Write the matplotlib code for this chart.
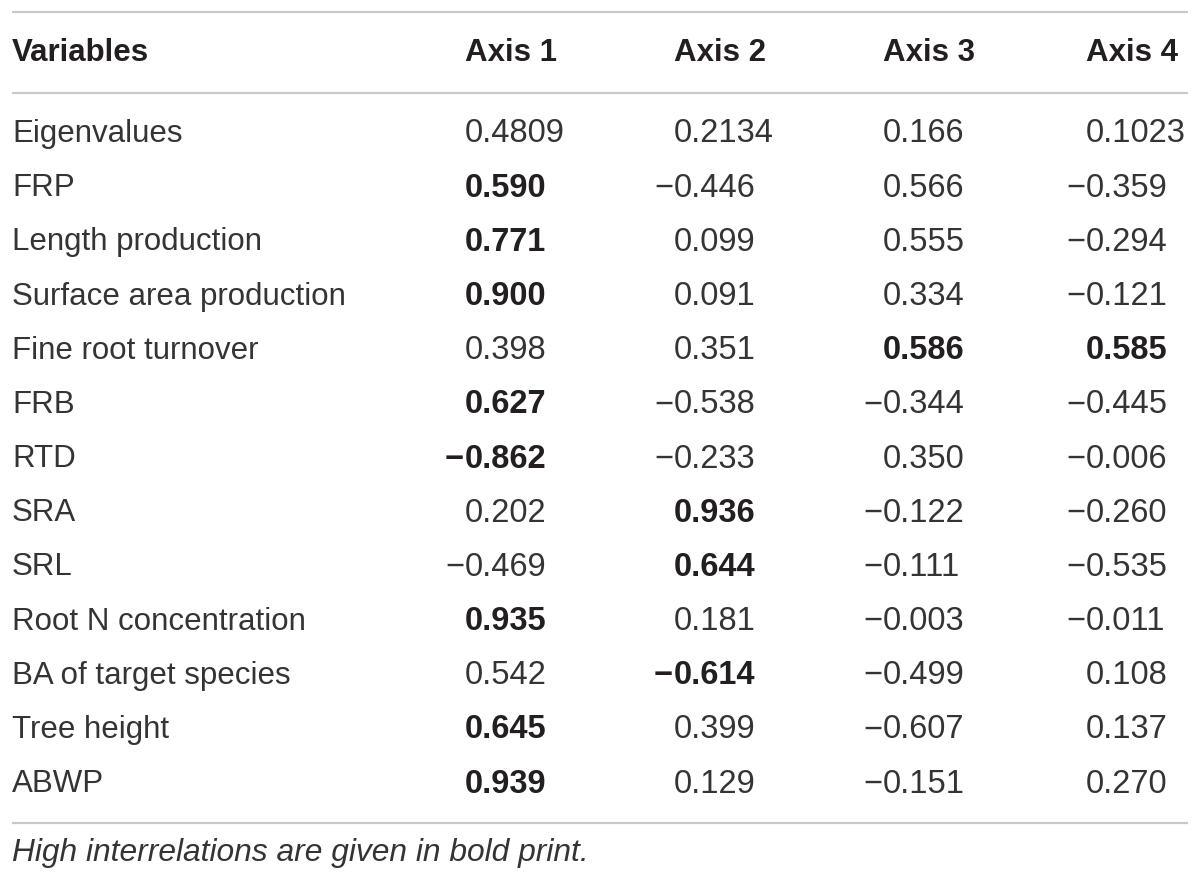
import matplotlib
matplotlib.use("Agg")
import matplotlib.pyplot as plt

# table contents
variables = ["Eigenvalues", "FRP", "Length production", "Surface area production",
             "Fine root turnover", "FRB", "RTD", "SRA", "SRL",
             "Root N concentration", "BA of target species", "Tree height", "ABWP"]
headers = ["Variables", "Axis 1", "Axis 2", "Axis 3", "Axis 4"]
axis1 = ["0.4809", "0.590", "0.771", "0.900", "0.398", "0.627", "-0.862",
         "0.202", "-0.469", "0.935", "0.542", "0.645", "0.939"]
axis2 = ["0.2134", "-0.446", "0.099", "0.091", "0.351", "-0.538", "-0.233",
         "0.936", "0.644", "0.181", "-0.614", "0.399", "0.129"]
axis3 = ["0.166", "0.566", "0.555", "0.334", "0.586", "-0.344", "0.350",
         "-0.122", "-0.111", "-0.003", "-0.499", "-0.607", "-0.151"]
axis4 = ["0.1023", "-0.359", "-0.294", "-0.121", "0.585", "-0.445", "-0.006",
         "-0.260", "-0.535", "-0.011", "0.108", "0.137", "0.270"]
# which cells are printed bold
bold1 = [0, 1, 1, 1, 0, 1, 1, 0, 0, 1, 0, 1, 1]
bold2 = [0, 0, 0, 0, 0, 0, 0, 1, 1, 0, 1, 0, 0]
bold3 = [0, 0, 0, 0, 1, 0, 0, 0, 0, 0, 0, 0, 0]
bold4 = [0, 0, 0, 0, 1, 0, 0, 0, 0, 0, 0, 0, 0]
footnote = "High interrelations are given in bold print."

FONT = ["Liberation Sans", "DejaVu Sans"]
TXT = "#231f20"
BODY = "#363334"
LINE = "#c9c9c9"
FS = 22.5       # labels
FS_NUM = 23.5   # numbers

fig = plt.figure(figsize=(12, 8.85), dpi=100)
ax = fig.add_axes([0, 0, 1, 1])
ax.set_xlim(0, 1200)
ax.set_ylim(885, 0)
ax.axis("off")

# horizontal rules
for y in [12, 93, 823]:
    ax.plot([12, 1188], [y, y], color=LINE, lw=1.6, solid_capstyle="butt")

col_x = [465, 674, 883, 1086]
row_y0, row_dy = 134, 54.17

# header
ax.text(12, 53, headers[0], fontsize=FS, fontweight="bold", family=FONT,
        color=TXT, va="center", ha="left")
for x, h in zip(col_x, headers[1:]):
    ax.text(x, 53, h, fontsize=FS, fontweight="bold", family=FONT,
            color=TXT, va="center", ha="left")

cols = [axis1, axis2, axis3, axis4]
bolds = [bold1, bold2, bold3, bold4]
for i, name in enumerate(variables):
    y = row_y0 + i * row_dy
    ax.text(12, y, name, fontsize=FS, family=FONT,
            color=BODY, va="center", ha="left")
    for x, col, bcol in zip(col_x, cols, bolds):
        s = col[i]
        w = "bold" if bcol[i] else "normal"
        c = TXT if bcol[i] else BODY
        ax.text(x, y, s.lstrip("-"), fontsize=FS_NUM, fontweight=w, family=FONT,
                color=c, va="center", ha="left")
        if s.startswith("-"):
            ax.text(x - 1, y, "\u2212", fontsize=FS_NUM, fontweight=w, family=FONT,
                    color=c, va="center", ha="right")

ax.text(12, 853, footnote, fontsize=22.9, fontstyle="italic",
        family=FONT, color=BODY, va="center", ha="left")

fig.savefig("out.png", dpi=100)
